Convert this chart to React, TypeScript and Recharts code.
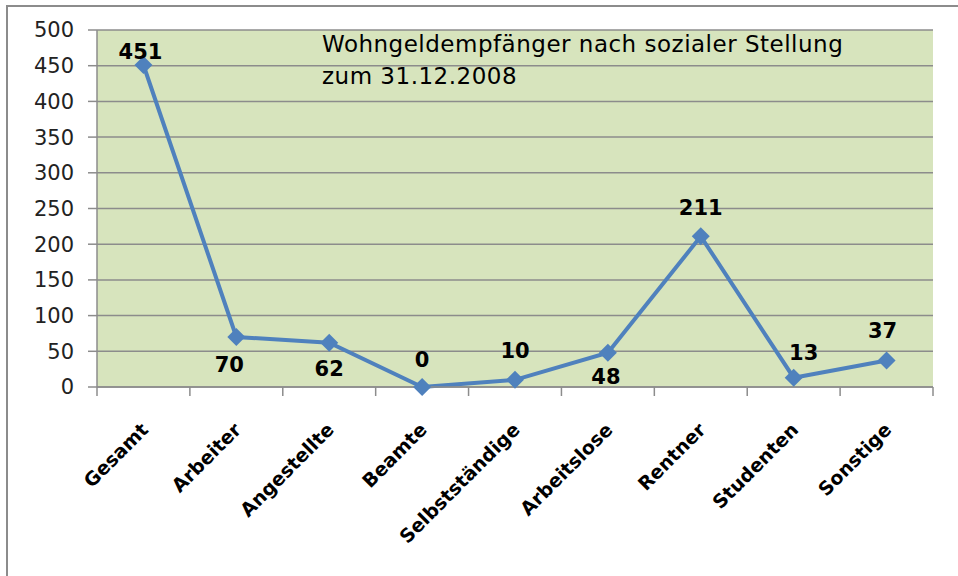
import { LineChart, Line, XAxis, YAxis, CartesianGrid } from 'recharts'

const CATEGORIES = ['Gesamt', 'Arbeiter', 'Angestellte', 'Beamte', 'Selbstständige', 'Arbeitslose', 'Rentner', 'Studenten', 'Sonstige']
const VALUES = [451, 70, 62, 0, 10, 48, 211, 13, 37]
const Y_TICKS = [0, 50, 100, 150, 200, 250, 300, 350, 400, 450, 500]
const TITLE = ['Wohngeldempfänger nach sozialer Stellung', 'zum 31.12.2008']

// label offsets (dx, dy of baseline) per category, like Excel's placement
const LABEL_OFFSET: Record<string, [number, number]> = {
  Gesamt: [-3, -6],
  Arbeiter: [-7, 35],
  Angestellte: [0, 33],
  Beamte: [0, -20],
  Selbstständige: [0, -22],
  Arbeitslose: [-2, 31],
  Rentner: [0, -21],
  Studenten: [10, -18],
  Sonstige: [-4, -23],
}

const data = CATEGORIES.map((name, i) => ({ name, value: VALUES[i] }))

const W = 958
const H = 576
const MARGIN = { top: 30, right: 25, left: 37, bottom: 69 }
const Y_W = 60
const PLOT_W = W - MARGIN.left - MARGIN.right - Y_W
const BAND = PLOT_W / CATEGORIES.length

const FONT = '"DejaVu Sans", sans-serif'
const BLUE = '#4f81bd'
const GRID = '#8c8c8c'

function Diamond(props: any) {
  const { cx, cy } = props
  if (cx == null || cy == null) return null
  const r = 9
  return <polygon points={`${cx},${cy - r} ${cx + r},${cy} ${cx},${cy + r} ${cx - r},${cy}`} fill={BLUE} />
}

function ValueLabel(props: any) {
  const { x, y, value, index } = props
  const [dx, dy] = LABEL_OFFSET[CATEGORIES[index]] ?? [0, -20]
  return (
    <text x={x + dx} y={y + dy} textAnchor="middle" fontFamily={FONT} fontWeight="bold" fontSize={21} fill="#000">
      {value}
    </text>
  )
}

function CategoryTick(props: any) {
  const { x, y, payload, index } = props
  const left = x - BAND / 2
  const tx = x + 6
  const ty = y + 44
  return (
    <g>
      <line x1={left} y1={y} x2={left} y2={y + 9} stroke={GRID} strokeWidth={1.5} />
      {index === CATEGORIES.length - 1 && (
        <line x1={x + BAND / 2} y1={y} x2={x + BAND / 2} y2={y + 9} stroke={GRID} strokeWidth={1.5} />
      )}
      <text
        x={tx}
        y={ty}
        textAnchor="end"
        transform={`rotate(-45 ${tx} ${ty})`}
        fontFamily={FONT}
        fontWeight="bold"
        fontSize={19}
        fill="#000"
      >
        {payload.value}
      </text>
    </g>
  )
}

export default function App() {
  return (
    <div style={{ position: 'absolute', left: 0, top: 0, width: W, height: H, overflow: 'hidden', background: '#fff' }}>
      <div style={{ position: 'absolute', left: 6, top: 5, width: 980, height: 620, border: '2px solid #8c8c8c' }} />
      <div style={{ position: 'absolute', left: 0, top: 0 }}>
        <LineChart width={W} height={H} data={data} margin={MARGIN}>
          <CartesianGrid vertical={false} stroke={GRID} strokeWidth={1.5} fill="#d7e4bd" />
          <XAxis
            dataKey="name"
            scale="band"
            interval={0}
            height={120}
            tickSize={0}
            tickMargin={0}
            axisLine={{ stroke: GRID, strokeWidth: 1.5 }}
            tickLine={false}
            tick={<CategoryTick />}
          />
          <YAxis
            domain={[0, 500]}
            ticks={Y_TICKS}
            width={Y_W}
            tickSize={9}
            tickMargin={14}
            axisLine={{ stroke: GRID, strokeWidth: 1.5 }}
            tickLine={{ stroke: GRID, strokeWidth: 1.5 }}
            tick={{ fontFamily: FONT, fontSize: 21, fill: '#222' }}
          />
          <Line
            dataKey="value"
            stroke={BLUE}
            strokeWidth={4}
            dot={<Diamond />}
            activeDot={false}
            label={<ValueLabel />}
            isAnimationActive={false}
          />
        </LineChart>
      </div>
      <div
        style={{
          position: 'absolute',
          left: 322,
          top: 28,
          fontFamily: FONT,
          fontSize: 23,
          letterSpacing: 0.5,
          lineHeight: '32px',
          color: '#000',
          whiteSpace: 'nowrap',
        }}
      >
        {TITLE.map(t => (
          <div key={t}>{t}</div>
        ))}
      </div>
    </div>
  )
}
